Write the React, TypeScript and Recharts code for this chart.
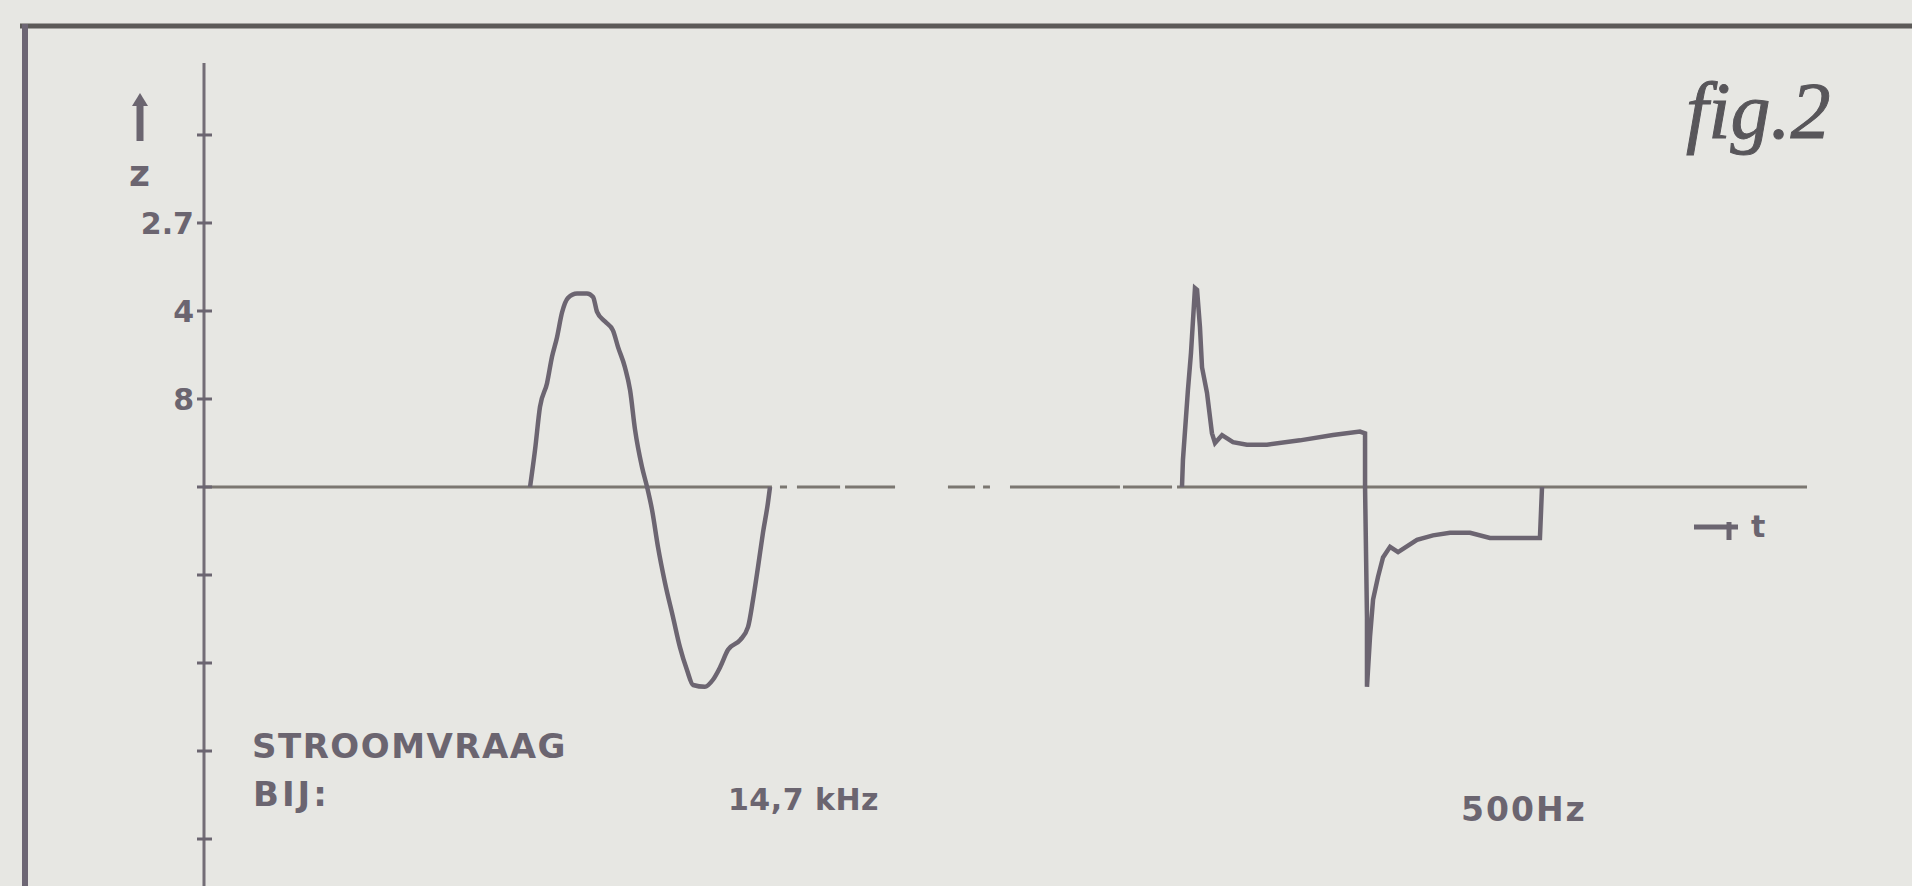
import { LineChart, Line, XAxis, YAxis, ReferenceLine } from 'recharts';

// time axis runs 0..100 across the plot, z in tick units
const burst14k = [
  { t: 20.34, z: 0 }, { t: 20.65, z: 0.42 }, { t: 20.96, z: 0.91 },
  { t: 21.4, z: 1.18 }, { t: 21.71, z: 1.48 }, { t: 22.02, z: 1.7 }, { t: 22.33, z: 1.98 },
  { t: 22.71, z: 2.15 }, { t: 23.27, z: 2.2 }, { t: 23.89, z: 2.2 }, { t: 24.27, z: 2.16 },
  { t: 24.52, z: 1.99 }, { t: 25.02, z: 1.88 }, { t: 25.51, z: 1.78 }, { t: 25.83, z: 1.59 },
  { t: 26.26, z: 1.36 }, { t: 26.58, z: 1.1 }, { t: 26.89, z: 0.65 }, { t: 27.32, z: 0.23 },
  { t: 27.64, z: 0 }, { t: 27.95, z: -0.26 }, { t: 28.32, z: -0.68 }, { t: 28.76, z: -1.09 },
  { t: 29.26, z: -1.48 }, { t: 29.69, z: -1.82 }, { t: 30.13, z: -2.08 }, { t: 30.51, z: -2.25 },
  { t: 31.25, z: -2.27 }, { t: 31.75, z: -2.19 }, { t: 32.19, z: -2.05 }, { t: 32.69, z: -1.85 },
  { t: 33.44, z: -1.74 }, { t: 33.94, z: -1.59 }, { t: 34.25, z: -1.28 }, { t: 34.56, z: -0.91 },
  { t: 34.87, z: -0.52 }, { t: 35.18, z: -0.18 }, { t: 35.31, z: 0 },
];

const burst500 = [
  { t: 61.01, z: 0 }, { t: 61.07, z: 0.31 }, { t: 61.38, z: 1.1 },
  { t: 61.57, z: 1.52 }, { t: 61.82, z: 2.26 }, { t: 61.95, z: 2.24 }, { t: 62.13, z: 1.82 },
  { t: 62.26, z: 1.36 }, { t: 62.57, z: 1.07 }, { t: 62.88, z: 0.61 }, { t: 63.07, z: 0.5 },
  { t: 63.51, z: 0.59 }, { t: 64.19, z: 0.51 }, { t: 65.06, z: 0.48 }, { t: 66.31, z: 0.48 },
  { t: 68.37, z: 0.53 }, { t: 70.43, z: 0.59 }, { t: 72.11, z: 0.63 }, { t: 72.43, z: 0.61 },
  { t: 72.43, z: 0 }, { t: 72.55, z: -1.48 }, { t: 72.55, z: -2.27 }, { t: 72.74, z: -1.7 },
  { t: 72.93, z: -1.28 }, { t: 73.24, z: -1.02 }, { t: 73.55, z: -0.8 }, { t: 73.99, z: -0.68 },
  { t: 74.49, z: -0.74 }, { t: 74.92, z: -0.69 }, { t: 75.67, z: -0.6 }, { t: 76.67, z: -0.55 },
  { t: 77.73, z: -0.52 }, { t: 78.98, z: -0.52 }, { t: 80.22, z: -0.58 }, { t: 83.34, z: -0.58 },
  { t: 83.47, z: 0 },
];

// pieces of the (partly broken) zero line, in t units
const zeroSegments = [
  [0, 35.43], [35.93, 36.37], [36.99, 39.68], [39.99, 43.11], [46.41, 48.1],
  [48.6, 49.03], [50.28, 57.14], [57.33, 60.39], [60.7, 100],
];

const yTicks = [4, 3, 2, 1, 0, -1, -2, -3, -4];
const yTickLabels = ['', '2.7', '4', '8', '', '', '', '', ''];

const ink = '#6b6570';
const bg = '#e7e7e3';
const labelFont = '"DejaVu Sans", "Liberation Sans", Arial, sans-serif';

function CrossTick(props: any) {
  const { x, y, payload } = props;
  const idx = yTicks.indexOf(payload.value);
  const label = idx >= 0 ? yTickLabels[idx] : '';
  return (
    <g>
      <line x1={x - 7} x2={x + 8} y1={y} y2={y} stroke={ink} strokeWidth={3} />
      {label && (
        <text
          x={x - 10}
          y={y}
          dy={11}
          textAnchor="end"
          fill={ink}
          fontFamily={labelFont}
          fontWeight="bold"
          fontSize={30}
        >
          {label}
        </text>
      )}
    </g>
  );
}

export default function App() {
  return (
    <div style={{ position: 'absolute', left: 0, top: 0, width: 1912, height: 886, background: bg, overflow: 'hidden' }}>
      <LineChart width={1912} height={886} data={burst14k} margin={{ top: 63, right: 105, bottom: 0, left: 0 }}>
        <XAxis type="number" dataKey="t" domain={[0, 100]} hide />
        <YAxis
          type="number"
          width={204}
          domain={[-4.534, 4.818]}
          ticks={yTicks}
          interval={0}
          allowDataOverflow
          tickSize={0}
          tickMargin={0}
          tickLine={false}
          axisLine={{ stroke: '#736d76', strokeWidth: 3 }}
          tick={<CrossTick />}
        />
        {zeroSegments.map(([a, b], i) => (
          <ReferenceLine
            key={i}
            segment={[{ x: a, y: 0 }, { x: b, y: 0 }]}
            stroke="#7b7771"
            strokeWidth={3}
          />
        ))}
        <Line
          data={burst14k}
          dataKey="z"
          type="monotone"
          stroke="#6c6571"
          strokeWidth={4.5}
          dot={false}
          isAnimationActive={false}
        />
        <Line
          data={burst500}
          dataKey="z"
          type="linear"
          stroke="#6c6571"
          strokeWidth={4.5}
          dot={false}
          isAnimationActive={false}
        />
      </LineChart>
      <svg
        width={1912}
        height={886}
        style={{ position: 'absolute', left: 0, top: 0, pointerEvents: 'none' }}
      >
        {/* frame */}
        <line x1={20} x2={1912} y1={26} y2={26} stroke="#5c5a58" strokeWidth={5} />
        <line x1={25} x2={25} y1={24} y2={886} stroke="#6d6674" strokeWidth={6} />
        {/* z arrow */}
        <line x1={140} x2={140} y1={102} y2={141} stroke={ink} strokeWidth={7} />
        <polygon points="132,106 140,93 148,106" fill={ink} />
        <text x={129} y={186} fill={ink} fontFamily={labelFont} fontWeight="bold" fontSize={36}>
          z
        </text>
        {/* t arrow */}
        <line x1={1694} x2={1738} y1={527} y2={527} stroke={ink} strokeWidth={5} />
        <line x1={1729} x2={1729} y1={522} y2={540} stroke={ink} strokeWidth={5} />
        <text x={1751} y={537} fill={ink} fontFamily={labelFont} fontWeight="bold" fontSize={30}>
          t
        </text>
        <text
          x={1686}
          y={138}
          fill="#58565a"
          stroke="#58565a"
          strokeWidth={1}
          fontFamily='"Liberation Serif", "Times New Roman", serif'
          fontStyle="italic"
          fontSize={80}
        >
          fig.2
        </text>
        <text x={252} y={758} fill={ink} fontFamily={labelFont} fontWeight="bold" fontSize={34} letterSpacing={1.5}>
          STROOMVRAAG
        </text>
        <text x={253} y={806} fill={ink} fontFamily={labelFont} fontWeight="bold" fontSize={34} letterSpacing={3}>
          BIJ:
        </text>
        <text x={728} y={810} fill={ink} fontFamily={labelFont} fontWeight="bold" fontSize={30} letterSpacing={0.5}>
          14,7 kHz
        </text>
        <text x={1461} y={821} fill={ink} fontFamily={labelFont} fontWeight="bold" fontSize={33} letterSpacing={2}>
          500Hz
        </text>
      </svg>
    </div>
  );
}
